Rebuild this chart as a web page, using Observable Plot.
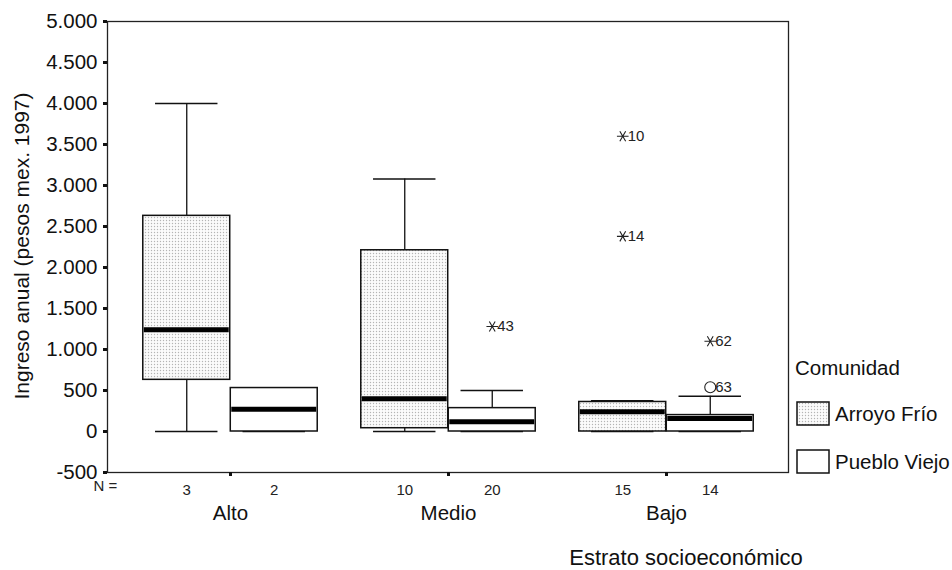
<!DOCTYPE html>
<html>
<head>
<meta charset="utf-8">
<script src="https://cdn.jsdelivr.net/npm/d3@7"></script>
<script src="https://cdn.jsdelivr.net/npm/@observablehq/plot@0.6"></script>
<style>
  body { margin: 0; background: #fff; }
  #chart { width: 952px; height: 570px; }
  #chart svg { font-family: "Liberation Sans", Arial, sans-serif; overflow: visible; }
</style>
</head>
<body>
<div id="chart"></div>
<script>
// Socioeconomic strata and communities
const strata = ["Alto", "Medio", "Bajo"];
const communities = ["Arroyo Frío", "Pueblo Viejo"];

// One entry per box (stratum × community)
const boxStratum   = ["Alto", "Alto", "Medio", "Medio", "Bajo", "Bajo"];
const boxCommunity = ["Arroyo Frío", "Pueblo Viejo", "Arroyo Frío", "Pueblo Viejo", "Arroyo Frío", "Pueblo Viejo"];
const boxN         = [3, 2, 10, 20, 15, 14];
const whiskerLow   = [0, 0, 0, 0, 0, 0];
const quartile1    = [630, 0, 40, 0, 0, 0];
const medianValue  = [1240, 270, 400, 120, 240, 160];
const quartile3    = [2630, 530, 2210, 285, 360, 200];
const whiskerHigh  = [4000, 530, 3080, 500, 375, 430];

// Outliers (circle) and extreme values (asterisk), labelled by case number
const outlierStratum   = ["Medio", "Bajo", "Bajo", "Bajo", "Bajo"];
const outlierCommunity = ["Pueblo Viejo", "Arroyo Frío", "Arroyo Frío", "Pueblo Viejo", "Pueblo Viejo"];
const outlierValue     = [1280, 3600, 2380, 1100, 540];
const outlierCase      = ["43", "10", "14", "62", "63"];
const outlierKind      = ["extreme", "extreme", "extreme", "extreme", "outlier"];

// Y axis ticks
const yTicks = [-500, 0, 500, 1000, 1500, 2000, 2500, 3000, 3500, 4000, 4500, 5000];

const boxes = boxStratum.map((s, i) => ({
  stratum: s, community: boxCommunity[i], n: boxN[i],
  lo: whiskerLow[i], q1: quartile1[i], med: medianValue[i], q3: quartile3[i], hi: whiskerHigh[i]
}));
const outliers = outlierStratum.map((s, i) => ({
  stratum: s, community: outlierCommunity[i], value: outlierValue[i],
  label: outlierCase[i], kind: outlierKind[i]
}));

const W = 952, H = 570, ML = 107, MR = 164, MT = 21, MB = 98;
const FONT = 20.5;
const xOptions = {type: "band", domain: strata, paddingInner: 0, paddingOuter: 0.058};
const bw = Plot.scale({x: {...xOptions, range: [ML, W - MR]}}).bandwidth;
const BOX = 87.5;   // box width in px
const CAP = 31.5;   // half-width of whisker caps

const es = d3.formatLocale({decimal: ",", thousands: ".", grouping: [3], currency: ["$", ""], minus: "-"});
const fmt = es.format(",d");

const marks = [];
communities.forEach((c, k) => {
  const off = (k === 0 ? -1 : 1) * BOX / 2;       // box centre relative to band centre
  const data = boxes.filter(d => d.community === c);
  const boxInset = {insetLeft: bw / 2 + off - BOX / 2, insetRight: bw / 2 - off - BOX / 2};
  const capInset = {insetLeft: bw / 2 + off - CAP, insetRight: bw / 2 - off - CAP};
  marks.push(
    Plot.ruleX(data, {x: "stratum", y1: "lo", y2: "q1", dx: off, stroke: "#111", strokeWidth: 1.3}),
    Plot.ruleX(data, {x: "stratum", y1: "q3", y2: "hi", dx: off, stroke: "#111", strokeWidth: 1.3}),
    Plot.tickY(data, {x: "stratum", y: "lo", ...capInset, stroke: "#111", strokeWidth: 1.5}),
    Plot.tickY(data, {x: "stratum", y: "hi", ...capInset, stroke: "#111", strokeWidth: 1.5}),
    Plot.barY(data, {x: "stratum", y1: "q1", y2: "q3", ...boxInset,
      fill: k === 0 ? "url(#stipple)" : "white", stroke: "#111", strokeWidth: 1.5}),
    Plot.tickY(data, {x: "stratum", y: "med", insetLeft: boxInset.insetLeft + 1, insetRight: boxInset.insetRight + 1,
      stroke: "#000", strokeWidth: 5}),
    // case counts under the axis
    Plot.text(data, {x: "stratum", y: () => -500, text: d => String(d.n), dx: off, dy: 18,
      fontSize: 15, fill: "#222"})
  );
  const od = outliers.filter(d => d.community === c);
  marks.push(
    Plot.dot(od.filter(d => d.kind === "extreme"), {x: "stratum", y: "value", dx: off, symbol: "asterisk",
      r: 5.5, rotate: 90, stroke: "#222", strokeWidth: 1.1}),
    Plot.dot(od.filter(d => d.kind === "outlier"), {x: "stratum", y: "value", dx: off, symbol: "circle",
      r: 5.5, stroke: "#222", strokeWidth: 1.1, fill: "none"}),
    Plot.text(od, {x: "stratum", y: "value", text: "label", dx: off + 5, textAnchor: "start",
      fontSize: 15, fill: "#222"})
  );
});

const chart = Plot.plot({
  width: W, height: H,
  marginLeft: ML, marginRight: MR, marginTop: MT, marginBottom: MB,
  style: {fontFamily: '"Liberation Sans", Arial, sans-serif', fontSize: FONT + "px", color: "#111", background: "white"},
  x: {...xOptions, axis: null},
  y: {domain: [-500, 5000], axis: null},
  marks: [
    ...marks,
    Plot.frame({stroke: "#222", strokeWidth: 1.3}),
    Plot.axisY(yTicks, {tickSize: 4, tickPadding: 6, strokeWidth: 3, tickFormat: fmt, label: null, fill: "#111"}),
    Plot.axisX({tickSize: 4, tickPadding: 29, strokeWidth: 3, label: null, fill: "#111"}),
    Plot.text(["N ="], {frameAnchor: "bottom-left", dx: -14, dy: 18, textAnchor: "start", fontSize: 15, fill: "#222"})
  ]
});
document.getElementById("chart").appendChild(chart);

const svg = d3.select(chart);
// stippled light-grey fill used for Arroyo Frío
const pat = svg.insert("defs", ":first-child").append("pattern")
  .attr("id", "stipple").attr("patternUnits", "userSpaceOnUse").attr("width", 3).attr("height", 3);
pat.append("rect").attr("width", 3).attr("height", 3).attr("fill", "#fbfbfb");
pat.append("circle").attr("cx", 1.5).attr("cy", 1.5).attr("r", 0.7).attr("fill", "#b4b4b4");

// axis titles
svg.append("text")
  .attr("transform", "translate(29,246) rotate(-90)")
  .attr("text-anchor", "middle").attr("font-size", FONT + 0.5).attr("fill", "#111")
  .text("Ingreso anual (pesos mex. 1997)");
svg.append("text")
  .attr("x", 686).attr("y", 565).attr("text-anchor", "middle").attr("font-size", 22).attr("fill", "#111")
  .text("Estrato socioeconómico");

// legend
const lg = svg.append("g").attr("font-size", FONT).attr("fill", "#111").attr("text-anchor", "start");
lg.append("text").attr("x", 795).attr("y", 375).text("Comunidad");
communities.forEach((c, k) => {
  const y0 = 402 + k * 48;
  lg.append("rect").attr("x", 797).attr("y", y0).attr("width", 32).attr("height", 23)
    .attr("fill", k === 0 ? "url(#stipple)" : "white").attr("stroke", "#111").attr("stroke-width", 1.5);
  lg.append("text").attr("x", 835).attr("y", y0 + 19).text(c);
});
</script>
</body>
</html>
